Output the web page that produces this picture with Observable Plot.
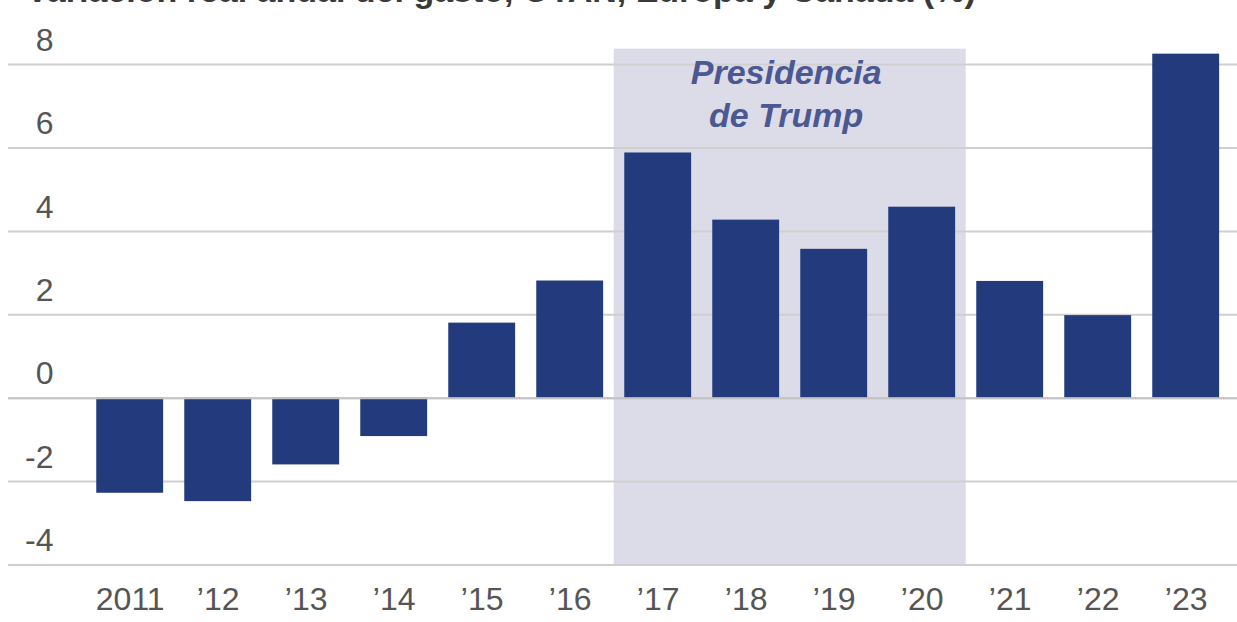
<!DOCTYPE html>
<html>
<head>
<meta charset="utf-8">
<script src="https://cdn.jsdelivr.net/npm/d3@7"></script>
<script src="https://cdn.jsdelivr.net/npm/@observablehq/plot@0.6"></script>
<style>
  html, body { margin: 0; padding: 0; background: #fff; overflow: hidden; }
  #title { position: relative; height: 12px; overflow: hidden; }
  #title span { position: absolute; left: 26px; top: -27px; font-family: "Liberation Sans", Arial, sans-serif; font-size: 34px; line-height: 34px; font-weight: 700; color: #3a3a3a; white-space: nowrap; }
</style>
</head>
<body>
<div id="title"><span>Variación real anual del gasto, OTAN, Europa y Canadá (%)</span></div>
<div id="chart"></div>
<script>
const years = [2011, 2012, 2013, 2014, 2015, 2016, 2017, 2018, 2019, 2020, 2021, 2022, 2023];
const values = [-2.28, -2.48, -1.6, -0.92, 1.8, 2.81, 5.88, 4.27, 3.57, 4.58, 2.8, 1.98, 8.25];
const yTicks = [-4, -2, 0, 2, 4, 6, 8];
const trumpStart = 2016.5;
const trumpEnd = 2020.5;
const trumpLabel = "Presidencia\nde Trump";

const data = years.map((year, i) => ({year, value: values[i]}));
const fmtYear = y => y === 2011 ? "2011" : "\u2019" + String(y).slice(2);

const chart = Plot.plot({
  width: 1237,
  height: 610,
  marginLeft: 8,
  marginRight: 0,
  marginTop: 35.4,
  marginBottom: 57.5,
  style: {fontFamily: "'Liberation Sans', Arial, sans-serif", background: "#fff"},
  x: {domain: [2009.617, 2023.583]},
  y: {domain: [-4, 8.4]},
  marks: [
    Plot.rect([{x1: trumpStart, x2: trumpEnd}], {x1: "x1", x2: "x2", y1: -4, y2: 8.37, fill: "#dcdce8"}),
    Plot.gridY(yTicks, {stroke: "#cfcfcf", strokeOpacity: 1, strokeWidth: 2}),
    Plot.rect(data, {x1: d => d.year - 0.38, x2: d => d.year + 0.38, y1: 0, y2: "value", fill: "#233a7d"}),
    Plot.ruleY([0], {stroke: "#c4c4c4", strokeWidth: 2}),
    Plot.text([trumpLabel], {x: (trumpStart + trumpEnd) / 2, y: 6.5, dx: -4, text: d => d, lineAnchor: "bottom", lineHeight: 1.28, fontSize: 34, fontWeight: 700, fontStyle: "italic", fill: "#4b5891"}),
    Plot.axisY({ticks: yTicks, tickSize: 0, tickPadding: 0, textAnchor: "end", dx: 45, dy: -24, fontSize: 32, fill: "#555555", label: null, tickFormat: d => String(d)}),
    Plot.axisX({ticks: years, tickSize: 0, tickPadding: 22, fontSize: 32, fill: "#555555", label: null, tickFormat: fmtYear})
  ]
});
document.getElementById("chart").appendChild(chart);
</script>
</body>
</html>
